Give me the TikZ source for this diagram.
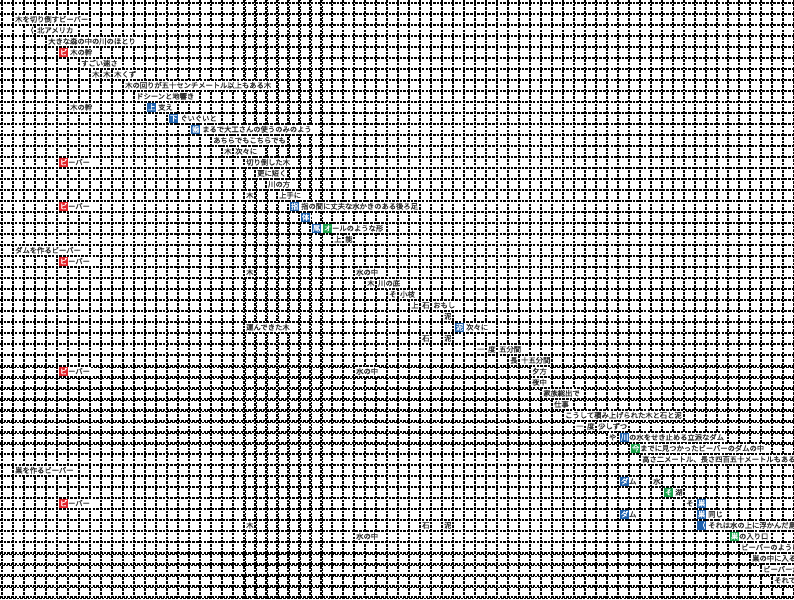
\documentclass[tikz,border=0pt]{standalone}
\usepackage{fontspec}
\newfontfamily\cjk[FakeBold=0.6]{Noto Sans CJK JP}
\definecolor{hred}{HTML}{E3242B}
\definecolor{hblue}{HTML}{1F63B0}
\definecolor{hgreen}{HTML}{19A24A}
\definecolor{txtc}{HTML}{2A2A2A}
\newcommand{\hR}[1]{{\setlength{\fboxsep}{0.8pt}\colorbox{hred}{\rule[-0.8pt]{0pt}{6.8pt}\textcolor{white}{#1}}}}
\newcommand{\hB}[1]{{\setlength{\fboxsep}{0.8pt}\colorbox{hblue}{\rule[-0.8pt]{0pt}{6.8pt}\textcolor{white}{#1}}}}
\newcommand{\hG}[1]{{\setlength{\fboxsep}{0.8pt}\colorbox{hgreen}{\rule[-0.8pt]{0pt}{6.8pt}\textcolor{white}{#1}}}}
\newcommand{\cellT}[3]{\node[lbl] (n-#1-#2) at ({3.2+11*#2},{8.5+11*#1}) {#3};}
\begin{document}
\begin{tikzpicture}[x=1pt,y=-1pt,
  gridl/.style={line width=1.8pt, dash pattern=on 2.6pt off 1.1pt, black},
  lbl/.style={anchor=west, fill=white, inner xsep=0.8pt, inner ysep=0.6pt,
    text height=6.2pt, text depth=1.2pt, text=txtc,
    font=\cjk\fontsize{7.3}{8}\selectfont}]
\useasboundingbox (0,0) rectangle (794,599);
\clip (0,0) rectangle (794,599);
\fill[white] (0,0) rectangle (794,599);
\foreach \i in {0,...,72} \draw[gridl] ({2+11*\i},0) -- ({2+11*\i},599);
\foreach \j in {0,...,54} \draw[gridl] (0,{3+11*\j}) -- (794,{3+11*\j});
\foreach \i in {22,...,29} \draw[gridl, dash phase=1.8pt] ({3.5+11*\i},0) -- ({3.5+11*\i},599);
\foreach \j in {33,...,40,50,51,52,53,54} \draw[gridl, dash phase=1.8pt] (0,{4.5+11*\j}) -- (794,{4.5+11*\j});
\cellT{1}{1}{木を切り倒すビーバー}
\cellT{2}{2}{（}
\cellT{2}{3}{北アメリカ}
\cellT{3}{4}{大きな森の中の川のほとり}
\cellT{4}{5}{\hR{ビ}}
\cellT{4}{6}{木の幹}
\cellT{5}{7}{すごい速さ}
\cellT{6}{8}{木}
\cellT{6}{9}{木}
\cellT{6}{10}{木くず}
\cellT{7}{11}{木の回りが五十センチメートル以上もある木}
\cellT{8}{12}{ドシーンと地響き}
\cellT{9}{6}{木の幹}
\cellT{9}{13}{\hB{上}}
\cellT{9}{14}{支え}
\cellT{10}{15}{\hB{下}}
\cellT{10}{16}{ぐいぐいと}
\cellT{11}{17}{\hB{歯}}
\cellT{11}{18}{まるで大工さんの使うのみのよう}
\cellT{12}{19}{あちらでもこちらでも}
\cellT{13}{20}{木}
\cellT{13}{21}{次々に}
\cellT{14}{5}{\hR{ビ}ーバー}
\cellT{14}{22}{切り倒した木}
\cellT{15}{23}{更に短く}
\cellT{16}{24}{川の方}
\cellT{17}{22}{木}
\cellT{17}{25}{上手に}
\cellT{18}{5}{\hR{ビ}ーバー}
\cellT{18}{26}{\hB{指}と}
\cellT{18}{27}{指の間に丈夫な水かきのある後ろ足}
\cellT{19}{27}{\hB{体}}
\cellT{20}{28}{\hB{尾}}
\cellT{20}{29}{\hG{オ}ールのような形}
\cellT{21}{30}{上}
\cellT{21}{31}{能}
\cellT{22}{1}{ダムを作るビーバー}
\cellT{23}{5}{\hR{ビ}ーバー}
\cellT{24}{22}{木}
\cellT{24}{32}{水の中}
\cellT{25}{33}{木}
\cellT{25}{34}{川の底}
\cellT{26}{35}{そ}
\cellT{26}{36}{小枝}
\cellT{27}{37}{上}
\cellT{27}{38}{石}
\cellT{27}{39}{おもし}
\cellT{28}{40}{泥}
\cellT{29}{22}{運んできた木}
\cellT{29}{41}{\hB{泥}}
\cellT{29}{42}{次々に}
\cellT{30}{38}{石}
\cellT{30}{40}{泥}
\cellT{31}{43}{一}
\cellT{31}{44}{度}
\cellT{31}{45}{五分間}
\cellT{32}{46}{長}
\cellT{32}{47}{十五分間}
\cellT{33}{5}{\hR{ビ}ーバー}
\cellT{33}{32}{水の中}
\cellT{33}{48}{夕方}
\cellT{34}{48}{夜中}
\cellT{35}{49}{家族総出で}
\cellT{36}{50}{仕事}
\cellT{37}{51}{こうして積み上げられた木と石と泥}
\cellT{38}{52}{一}
\cellT{38}{53}{度}
\cellT{38}{54}{少しずつ}
\cellT{39}{55}{や}
\cellT{39}{56}{\hB{川}の水をせき止める立派なダム}
\cellT{40}{57}{\hG{今}までに見つかったビーバーのダムの中}
\cellT{41}{58}{高さ二メートル、長さ四百五十メートルもある}
\cellT{42}{1}{巣を作るビーバー}
\cellT{43}{56}{\hB{ダ}ム}
\cellT{43}{59}{水}
\cellT{44}{60}{\hG{そ}}
\cellT{44}{61}{湖}
\cellT{45}{5}{\hR{ビ}ーバー}
\cellT{45}{62}{そ}
\cellT{45}{63}{\hB{巣}}
\cellT{46}{56}{\hB{ダ}ム}
\cellT{46}{63}{\hB{巣}}
\cellT{46}{64}{同じ}
\cellT{47}{22}{木}
\cellT{47}{38}{石}
\cellT{47}{40}{泥}
\cellT{47}{63}{\hB{（}}
\cellT{47}{64}{それは水の上に浮かんだ島のよう}
\cellT{48}{32}{水の中}
\cellT{48}{66}{\hG{巣}の入り口}
\cellT{49}{67}{ビーバーのように}
\cellT{50}{68}{巣の中に入る}
\cellT{51}{69}{ビーバーが}
\cellT{52}{70}{それで}
\end{tikzpicture}
\end{document}
